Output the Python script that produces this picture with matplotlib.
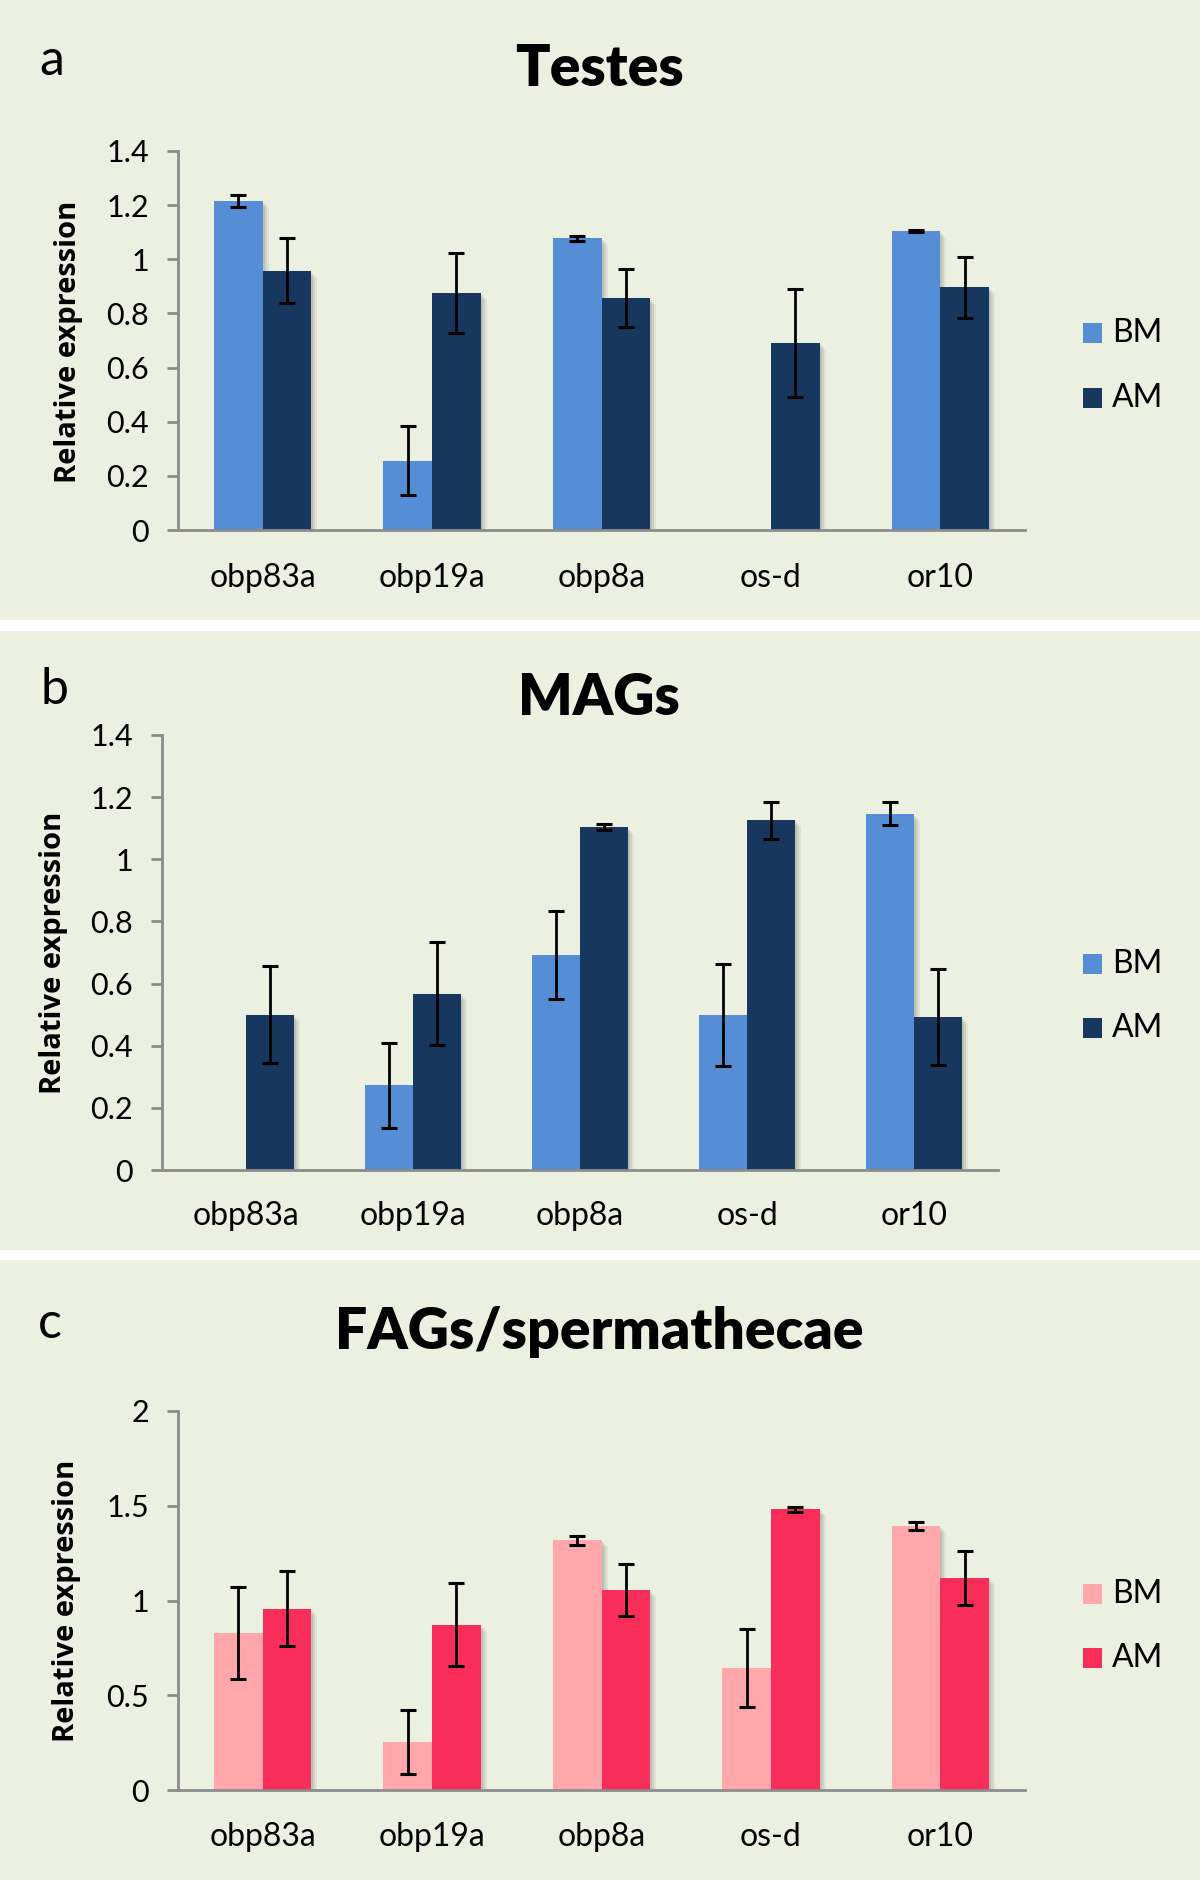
import matplotlib as mpl
mpl.use('Agg')
import matplotlib.pyplot as plt
import matplotlib.patches as mpatches
import numpy as np

genes = ['obp83a', 'obp19a', 'obp8a', 'os-d', 'or10']
series = ['BM', 'AM']

# Testes
testes_bm = [1.214, 0.256, 1.077, 0.0, 1.104]
testes_bm_err = [0.022, 0.128, 0.008, 0.0, 0.004]
testes_am = [0.958, 0.875, 0.857, 0.692, 0.896]
testes_am_err = [0.120, 0.149, 0.108, 0.200, 0.113]

# MAGs
mags_bm = [0.0, 0.272, 0.692, 0.499, 1.146]
mags_bm_err = [0.0, 0.137, 0.142, 0.163, 0.037]
mags_am = [0.500, 0.568, 1.103, 1.125, 0.493]
mags_am_err = [0.156, 0.167, 0.010, 0.060, 0.154]

# FAGs/spermathecae
fags_bm = [0.829, 0.254, 1.317, 0.643, 1.393]
fags_bm_err = [0.243, 0.170, 0.025, 0.204, 0.022]
fags_am = [0.957, 0.872, 1.054, 1.482, 1.118]
fags_am_err = [0.198, 0.220, 0.136, 0.013, 0.144]

W, H = 1200, 1880
bg = '#ECF0E1'
tick_font = 'Lato'

fig = plt.figure(figsize=(W / 100, H / 100), dpi=100)
fig.patch.set_facecolor('white')


def fx(px):
  return px / W


def fy(py):
  return 1 - py / H


# panel backgrounds (white gaps in between)
for top, bot in [(0, 620), (631, 1250), (1260, 1880)]:
  fig.patches.append(mpatches.Rectangle((0, fy(bot)), 1, (bot - top) / H,
                                        transform=fig.transFigure, facecolor=bg,
                                        edgecolor='none', zorder=-10))

panels = [
  dict(letter='a', title='Testes', box=(178, 151, 1025, 530), ymax=1.4, step=0.2,
       bm=testes_bm, bme=testes_bm_err, am=testes_am, ame=testes_am_err,
       cols=('#558ED5', '#17375E'), letter_xy=(52, 61), title_xy=(599, 69),
       ylab_xy=(69, 342), leg_y=(333, 398), xlab_y=578),
  dict(letter='b', title='MAGs', box=(162, 735, 998, 1170), ymax=1.4, step=0.2,
       bm=mags_bm, bme=mags_bm_err, am=mags_am, ame=mags_am_err,
       cols=('#558ED5', '#17375E'), letter_xy=(54, 690), title_xy=(599, 698),
       ylab_xy=(54, 953), leg_y=(964, 1028), xlab_y=1216),
  dict(letter='c', title='FAGs/spermathecae', box=(178, 1411, 1025, 1790), ymax=2.0, step=0.5,
       bm=fags_bm, bme=fags_bm_err, am=fags_am, ame=fags_am_err,
       cols=('#FFA7AA', '#F92D5A'), letter_xy=(50, 1324), title_xy=(599, 1332),
       ylab_xy=(67, 1601), leg_y=(1594, 1658), xlab_y=1837),
]

x = np.arange(len(genes))
bw = 0.287

for p in panels:
  l, t, r, b = p['box']
  ax = fig.add_axes([fx(l), fy(b), fx(r) - fx(l), (b - t) / H])
  ax.set_facecolor('none')

  # soft shadow behind bars
  for k, a in [(6, 0.05), (4, 0.07), (2, 0.09)]:
    dx = k / (r - l) * 5
    dy = k / (b - t) * p['ymax']
    for xs, vals in [(x - bw / 2, p['bm']), (x + bw / 2, p['am'])]:
      v = np.array(vals)
      ax.bar(xs + dx, np.where(v > 0, v - dy, 0), bw, bottom=0, color='black', alpha=a,
             linewidth=0, zorder=1)

  ax.bar(x - bw / 2, p['bm'], bw, color=p['cols'][0], zorder=2, label='BM')
  ax.bar(x + bw / 2, p['am'], bw, color=p['cols'][1], zorder=2, label='AM')
  for xs, vals, errs in [(x - bw / 2, p['bm'], p['bme']), (x + bw / 2, p['am'], p['ame'])]:
    for xi, v, e in zip(xs, vals, errs):
      if e > 0:
        ax.errorbar(xi, v, yerr=e, fmt='none', ecolor='black', elinewidth=2,
                    capsize=6, capthick=2.2, zorder=3)

  ax.set_xlim(-0.5, len(genes) - 0.5)
  ax.set_ylim(0, p['ymax'])
  ticks = np.arange(0, p['ymax'] + 1e-9, p['step'])
  ax.set_yticks(ticks)
  ax.set_yticklabels(['%g' % v for v in ticks], fontfamily=tick_font, fontsize=22)
  ax.set_xticks(x)
  ax.set_xticklabels([])
  for spine in ['top', 'right']:
    ax.spines[spine].set_visible(False)
  for spine in ['left', 'bottom']:
    ax.spines[spine].set_color('#8C8C8C')
    ax.spines[spine].set_linewidth(2)
  ax.tick_params(axis='y', length=8, width=2, color='#8C8C8C', pad=13)
  ax.tick_params(axis='x', length=0)

  for xi, g in zip(x, genes):
    fig.text(fx(l + (xi + 0.5) * (r - l) / len(genes)), fy(p['xlab_y']), g,
             ha='center', va='center', fontsize=23, fontfamily=tick_font)

  fig.text(fx(p['letter_xy'][0]), fy(p['letter_xy'][1]), p['letter'],
           ha='center', va='center', fontsize=36, fontfamily=tick_font)
  fig.text(fx(p['title_xy'][0]), fy(p['title_xy'][1]), p['title'],
           ha='center', va='center', fontsize=41, fontweight='heavy', fontfamily=tick_font)
  fig.text(fx(p['ylab_xy'][0]), fy(p['ylab_xy'][1]), 'Relative expression',
           ha='center', va='center', rotation=90, fontsize=21, fontweight='bold',
           fontfamily='Open Sans')

  # legend
  for name, col, yy in zip(series, p['cols'], p['leg_y']):
    fig.patches.append(mpatches.Rectangle((fx(1083), fy(yy + 10)), 19 / W, 20 / H,
                                          transform=fig.transFigure, facecolor=col,
                                          edgecolor='none', zorder=2))
    fig.text(fx(1112), fy(yy), name, ha='left', va='center', fontsize=23,
             fontfamily=tick_font)

plt.savefig('out.png', dpi=100, facecolor=fig.get_facecolor())
